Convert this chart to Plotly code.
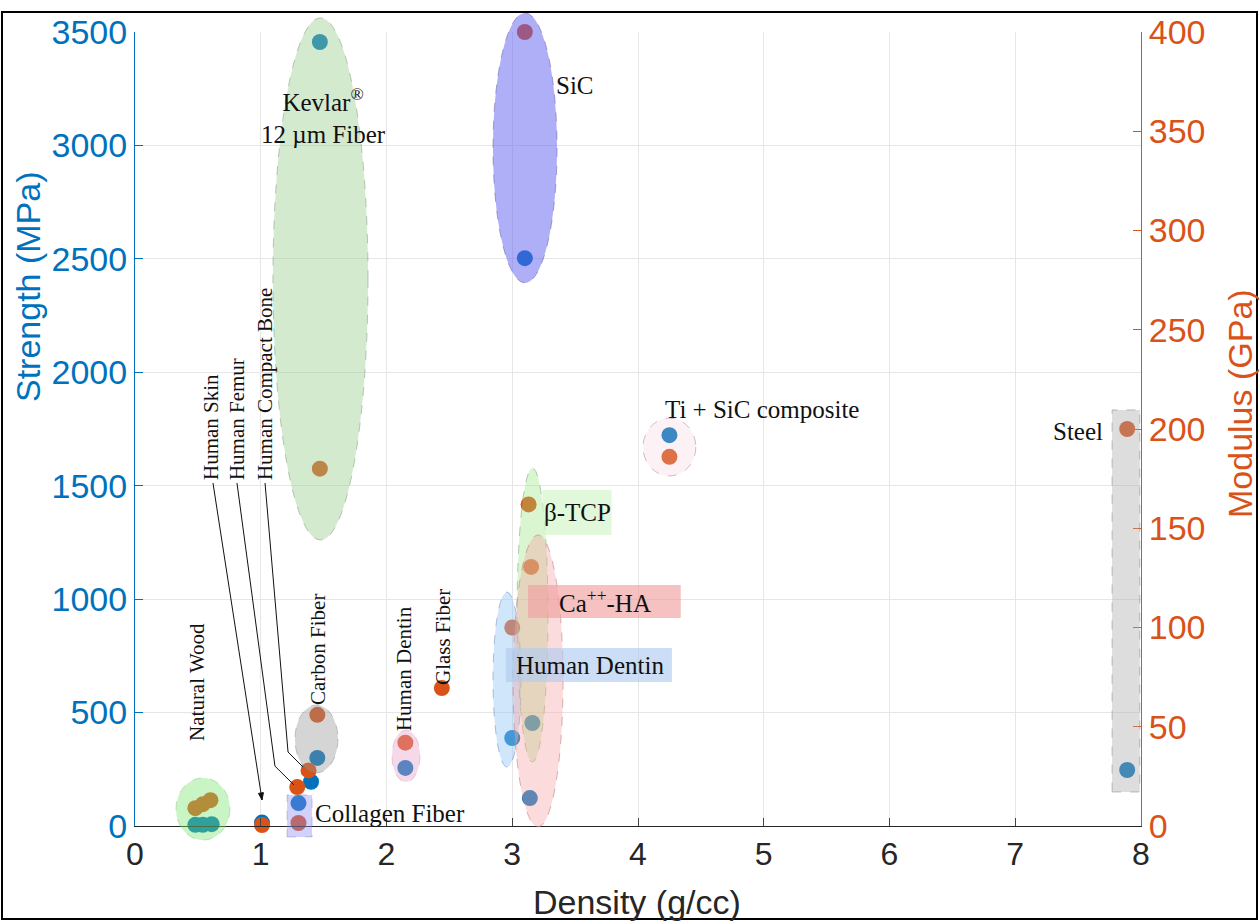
import plotly.graph_objects as go

# ---------------- data ----------------
# Strength (MPa) vs density (g/cc) -> left axis (blue)
strength_density = [0.48, 0.54, 0.61, 1.01, 1.30, 1.40, 1.45, 1.47, 2.15, 3.10, 3.00, 3.16, 3.14, 4.25, 7.89]
strength_mpa     = [5,    5,    8,    15,   101,  195,  300,  3456, 256,  2503, 388,  454,  123,  1723, 247]

# Modulus (GPa) vs density (g/cc) -> right axis (orange)
modulus_density = [0.48, 0.54, 0.60, 1.01, 1.30, 1.29, 1.38, 1.45, 1.47, 2.15, 2.44, 3.10, 3.00, 3.13, 3.15, 4.25, 7.89]
modulus_gpa     = [9,    11,   13,   0.5,  1.5,  19.6, 28,   56,   180,  42,   69.5, 400,  100,  162,  130.5, 186, 200]

x_ticks = [0, 1, 2, 3, 4, 5, 6, 7, 8]
left_ticks = [0, 500, 1000, 1500, 2000, 2500, 3000, 3500]
right_ticks = [0, 50, 100, 150, 200, 250, 300, 350, 400]

BLUE = "#0072BD"
ORANGE = "#D95319"
XMAX, YMAX, Y2MAX = 8, 3500, 400

# plot-area pixel geometry (used for paper conversions)
L, R, T, B = 135, 1141, 32, 826
W_FIG, H_FIG = 1260, 921


def px(x):
    return x / XMAX


def py(y):
    return y / YMAX


def to_pix(x, y):
    return L + x / XMAX * (R - L), B - y / YMAX * (B - T)


def pix_to_paper(X, Y):
    return (X - L) / (R - L), (B - Y) / (B - T)


fig = go.Figure()
fig.add_trace(go.Scatter(x=strength_density, y=strength_mpa, mode="markers", cliponaxis=False,
                         marker=dict(color=BLUE, size=16), yaxis="y", showlegend=False))
fig.add_trace(go.Scatter(x=modulus_density, y=modulus_gpa, mode="markers", cliponaxis=False,
                         marker=dict(color=ORANGE, size=16), yaxis="y2", showlegend=False))

# ---------------- region highlights (data units: density, MPa) ----------------
regions = [
    # type, x0, x1, y0, y1, fill, line
    ("circle", 1.097, 1.853, 1261, 3562, "rgba(150,205,140,0.42)", "rgba(120,150,120,0.5)"),   # Kevlar
    ("circle", 2.847, 3.356, 2394, 3584, "rgba(95,95,240,0.50)", "rgba(90,90,160,0.5)"),       # SiC
    ("circle", 0.326, 0.755, -62, 212, "rgba(120,230,110,0.40)", "rgba(120,180,120,0.4)"),     # Natural wood
    ("circle", 1.272, 1.614, 234, 533, "rgba(150,150,150,0.40)", "rgba(120,120,120,0.4)"),     # Carbon fiber
    ("rect",   1.209, 1.408, -48, 137, "rgba(140,140,240,0.40)", "rgba(120,120,200,0.4)"),     # Collagen
    ("circle", 2.044, 2.266, 194, 423, "rgba(230,160,200,0.40)", "rgba(200,140,170,0.4)"),     # Human dentin (small)
    ("circle", 4.040, 4.460, 1543, 1798, "rgba(245,205,215,0.25)", "rgba(190,140,160,0.6)"),   # Ti + SiC
    ("circle", 2.847, 3.070, 260, 1031, "rgba(150,200,245,0.45)", "rgba(120,150,190,0.6)"),    # Human dentin (big)
    ("circle", 3.038, 3.284, 282, 1578, "rgba(150,230,120,0.35)", "rgba(130,170,120,0.6)"),    # beta-TCP
    ("circle", 3.006, 3.404, -4, 1283, "rgba(245,165,165,0.40)", "rgba(190,130,130,0.6)"),     # Ca-HA
    ("rect",   7.770, 7.990, 150, 1834, "rgba(170,170,170,0.40)", "rgba(130,130,130,0.5)"),    # Steel
]
shapes = []
for kind, x0, x1, y0, y1, fill, line in regions:
    shapes.append(dict(type=kind, xref="paper", yref="paper",
                       x0=px(x0), x1=px(x1), y0=py(y0), y1=py(y1),
                       fillcolor=fill, line=dict(color=line, width=1, dash="dash"),
                       layer="above"))

# label background boxes
boxes = [
    (3.24, 3.79, 1283, 1481, "rgba(215,245,205,0.75)"),   # beta-TCP
    (3.125, 4.34, 917, 1062, "rgba(240,160,160,0.65)"),   # Ca-HA
    (2.95, 4.27, 635, 785, "rgba(175,205,240,0.65)"),     # Human Dentin
]
for x0, x1, y0, y1, fill in boxes:
    shapes.append(dict(type="rect", xref="paper", yref="paper",
                       x0=px(x0), x1=px(x1), y0=py(y0), y1=py(y1),
                       fillcolor=fill, line=dict(width=0), layer="above"))

# leader lines for Human Skin / Human Femur / Human Compact Bone
leaders = [
    [(0.62, 1512), (1.01, 115)],
    [(0.811, 1512), (1.113, 264), (1.264, 181)],
    [(1.034, 1512), (1.217, 326), (1.336, 260)],
]
for pts in leaders:
    path = "M " + " L ".join(f"{a},{b}" for a, b in pts)
    shapes.append(dict(type="path", xref="x", yref="y", path=path,
                       line=dict(color="#111111", width=1), layer="above"))

# small arrow head at the end of the Human Skin leader
(ax0, ay0), (ax1, ay1) = leaders[0]
X0, Y0 = to_pix(ax0, ay0)
X1, Y1 = to_pix(ax1, ay1)
dx, dy = X1 - X0, Y1 - Y0
n = (dx * dx + dy * dy) ** 0.5
ux, uy = dx / n, dy / n
hl, hw = 7, 2.5
bxp, byp = X1 - ux * hl, Y1 - uy * hl
tri = [(X1, Y1), (bxp - uy * hw, byp + ux * hw), (bxp + uy * hw, byp - ux * hw)]
tri_p = [pix_to_paper(a, b) for a, b in tri]
shapes.append(dict(type="path", xref="paper", yref="paper",
                   path="M " + " L ".join(f"{a},{b}" for a, b in tri_p) + " Z",
                   fillcolor="#111111", line=dict(color="#111111", width=1), layer="above"))

# image border
bx0, by0 = pix_to_paper(2, 919)
bx1, by1 = pix_to_paper(1257, 12)
shapes.append(dict(type="rect", xref="paper", yref="paper",
                   x0=bx0, x1=bx1, y0=by0, y1=by1,
                   line=dict(color="black", width=2), fillcolor="rgba(0,0,0,0)", layer="above"))

SERIF = "Liberation Serif"
LF = dict(family=SERIF, size=25, color="#111111")
LFV = dict(family=SERIF, size=21, color="#111111")

ann = []


def label(text, x, y, angle=0, xanchor="center", yanchor="middle"):
    ann.append(dict(text=text, x=x, y=y, xref="x", yref="y", showarrow=False,
                    textangle=angle, xanchor=xanchor, yanchor=yanchor,
                    font=LF if angle == 0 else LFV))


label("Kevlar<sup>®</sup><br>12 µm Fiber", 1.50, 3130)
label("SiC", 3.50, 3266)
label("Ti + SiC composite", 4.986, 1834)
label("Steel", 7.714, 1741, xanchor="right")
label("Collagen Fiber", 1.415, 57, xanchor="left")
label("β-TCP", 3.515, 1384)
label("Ca<sup>++</sup>-HA", 3.738, 992)
label("Human Dentin", 3.618, 708)
label("Natural Wood", 0.493, 635, angle=-90)
label("Carbon Fiber", 1.455, 780, angle=-90)
label("Human Dentin", 2.139, 696, angle=-90)
label("Glass Fiber", 2.449, 833, angle=-90)
label("Human Skin", 0.604, 1516, angle=-90, yanchor="bottom")
label("Human Femur", 0.811, 1516, angle=-90, yanchor="bottom")
label("Human Compact Bone", 1.034, 1516, angle=-90, yanchor="bottom")

SANS = "Liberation Sans"
# axis titles
tx, ty = pix_to_paper(28, 287)
ann.append(dict(text="Strength (MPa)", xref="paper", yref="paper", x=tx, y=ty,
                xanchor="center", yanchor="middle",
                textangle=-90, showarrow=False, font=dict(family=SANS, size=34, color=BLUE)))
tx, ty = pix_to_paper(1240, 404)
ann.append(dict(text="Modulus (GPa)", xref="paper", yref="paper", x=tx, y=ty,
                xanchor="center", yanchor="middle",
                textangle=-90, showarrow=False, font=dict(family=SANS, size=34, color=ORANGE)))
tx, ty = pix_to_paper(637, 902)
ann.append(dict(text="Density (g/cc)", xref="paper", yref="paper", x=tx, y=ty,
                xanchor="center", yanchor="middle",
                showarrow=False, font=dict(family=SANS, size=34, color="#262626")))

fig.update_layout(
    width=W_FIG, height=H_FIG,
    margin=dict(l=L, r=W_FIG - R, t=T, b=H_FIG - B),
    paper_bgcolor="white", plot_bgcolor="white",
    font=dict(family=SANS),
    xaxis=dict(range=[0, XMAX], tickvals=x_ticks, ticks="inside", ticklen=8,
               showline=True, linecolor="#262626", linewidth=1,
               gridcolor="#e6e6e6", zeroline=False,
               tickfont=dict(size=32, color="#262626")),
    yaxis=dict(range=[0, YMAX], tickvals=left_ticks, ticks="inside", ticklen=8,
               showline=True, linecolor=BLUE, linewidth=1, tickcolor=BLUE,
               gridcolor="#e6e6e6", zeroline=False,
               tickfont=dict(size=34, color=BLUE)),
    yaxis2=dict(range=[0, Y2MAX], tickvals=right_ticks, ticks="inside", ticklen=8,
                overlaying="y", side="right", showgrid=False, zeroline=False,
                showline=True, linecolor=ORANGE, linewidth=1, tickcolor=ORANGE,
                tickfont=dict(size=34, color=ORANGE)),
    shapes=shapes,
    annotations=ann,
)

fig.write_html("out.html", config={"displayModeBar": False},
               post_script="document.body.style.margin='0px';document.body.style.overflow='hidden';")
